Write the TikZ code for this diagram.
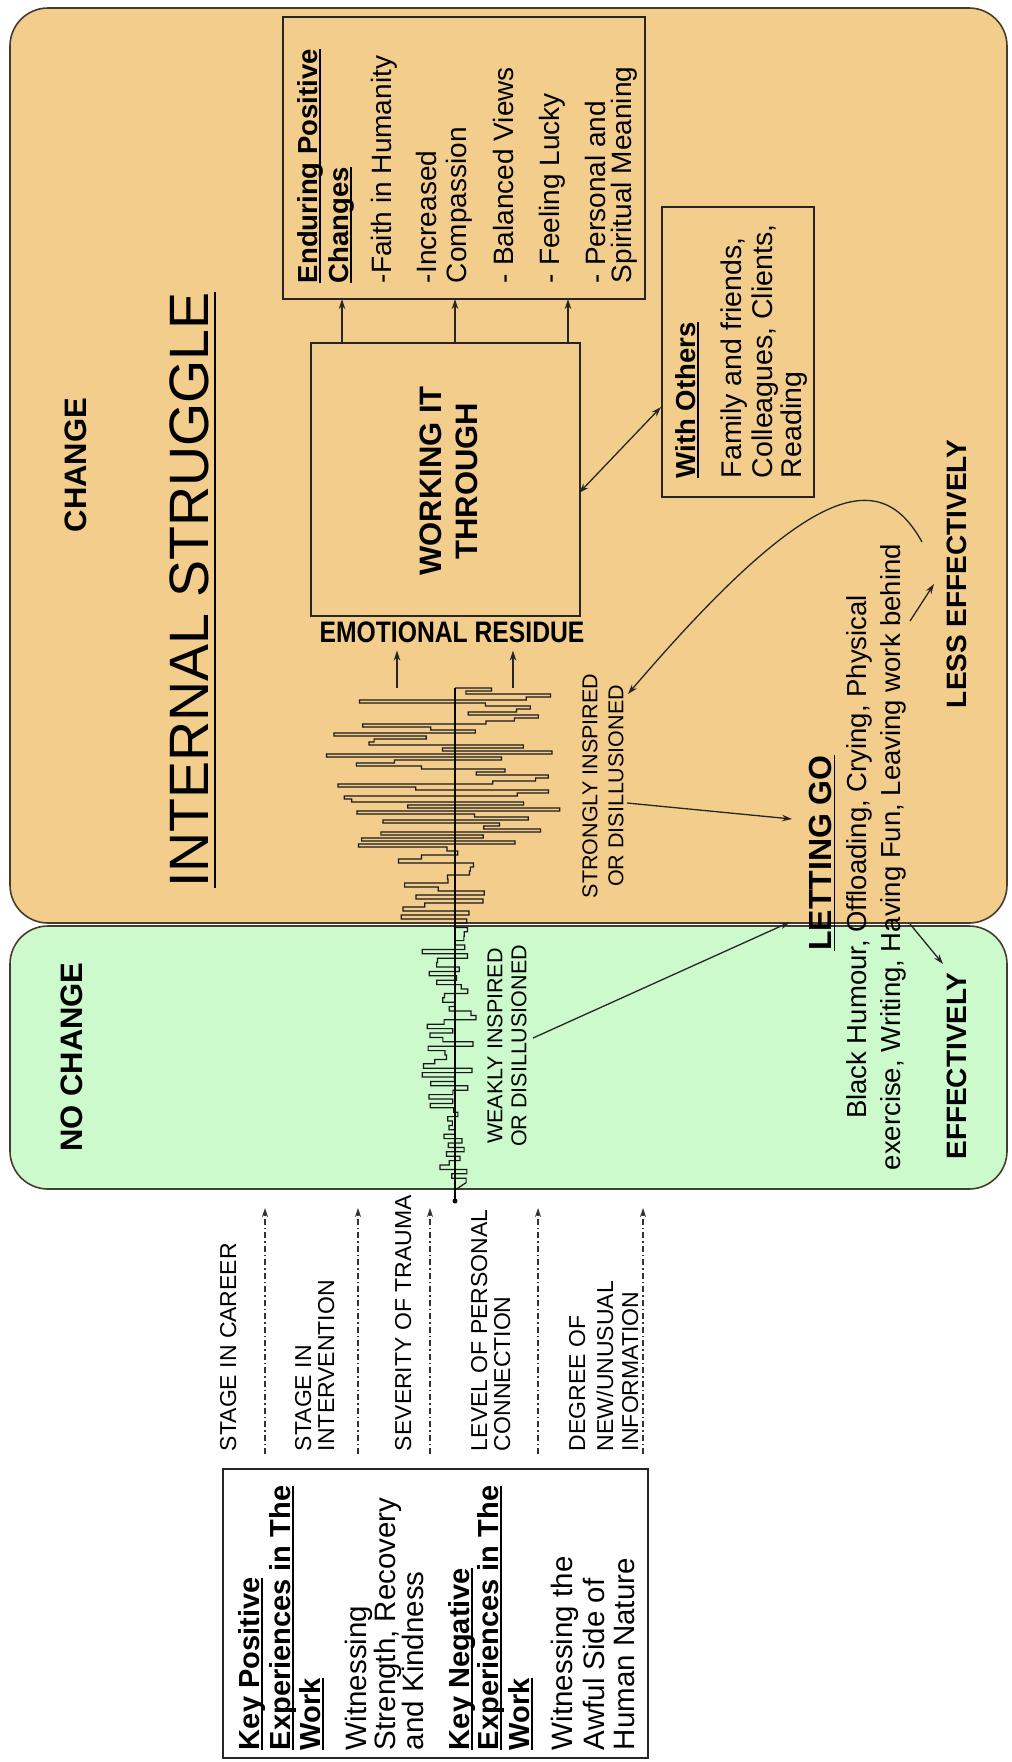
\documentclass[tikz,border=0pt]{standalone}
\usepackage{fontspec}
\setmainfont{Liberation Sans}
\usetikzlibrary{arrows.meta}
\definecolor{orangebg}{RGB}{243,205,140}
\definecolor{greenbg}{RGB}{204,250,204}
\definecolor{edgec}{RGB}{70,60,45}
\newsavebox\myulbox
\newcommand\myul[1]{\sbox\myulbox{#1}\rlap{\rule[-0.14em]{\wd\myulbox}{1.8pt}}\usebox\myulbox}
\begin{document}
\begin{tikzpicture}[x=1pt,y=-1pt,
  every node/.style={inner sep=0pt, outer sep=0pt},
  panel/.style={draw=edgec, line width=1.6pt, rounded corners=38pt},
  boxn/.style={draw=black!85, line width=1.8pt},
  rot/.style={rotate=90},
  txt/.style={rotate=90, anchor=base west},
  fbody/.style={font=\fontsize{28}{30}\selectfont},
  fhead/.style={font=\bfseries\fontsize{27.5}{30}\selectfont},
  fkey/.style={font=\fontsize{29.5}{30}\selectfont},
  fkeyh/.style={font=\bfseries\fontsize{29}{30}\selectfont},
  fsmall/.style={font=\fontsize{23}{24}\selectfont},
  arr/.style={draw=black!85, line width=1.3pt, -{Stealth[length=10pt,width=6.5pt]}},
  arrtwo/.style={draw=black!85, line width=1.3pt, {Stealth[length=10pt,width=6.5pt]}-{Stealth[length=10pt,width=6.5pt]}},
  dasharr/.style={draw=black!80, line width=1.1pt, dash pattern=on 6pt off 3pt on 1.5pt off 3pt, -{Stealth[length=9pt,width=6pt]}},
  wave/.style={draw=black!90, line width=1.2pt, line join=miter},
]
\useasboundingbox (0,0) rectangle (1012,1762);

% panels
\node[panel, fill=orangebg, minimum width=997pt, minimum height=915pt] (orng) at (508.5,465.5) {};
\node[panel, fill=greenbg, minimum width=997pt, minimum height=263pt] (grn) at (508.5,1057.5) {};

% boxes
\node[boxn, minimum width=362pt, minimum height=282pt] (endur) at (464,158) {};
\node[boxn, minimum width=269pt, minimum height=273pt] (work) at (445.5,479.5) {};
\node[boxn, minimum width=152pt, minimum height=290pt] (others) at (738,352) {};
\node[boxn, fill=white, minimum width=425pt, minimum height=289pt] (key) at (435.5,1613.5) {};

% waveform (staircase trace) and axis
\coordinate (ax0) at (455,688);
\coordinate (ax1) at (455,1201);
\pgfmathsetseed{11}
\draw[wave] (ax0)
  \foreach \i [evaluate=\i as \yy using (\i<54 ? 688+3*\i : (\i<73 ? 847+4*(\i-53) : 923+4.4*(\i-72))),
               evaluate=\i as \yp using (\i<55 ? 688+3*(\i-1) : (\i<74 ? 847+4*(\i-54) : 923+4.4*(\i-73))),
               evaluate=\i as \xx using (\i<3 ? 452+60*rand : (\i<54 ? 450+128*rand : (\i<73 ? 440+46*rand : (\i<79 ? 462+8*rand : (\i<115 ? 450+30*rand : 452+16*rand)))))] in {1,...,131}
  { -- (\xx,\yp) -- (\xx,\yy) } -- (455,1190) -- (ax1);
\draw[line width=1.3pt] (ax0) -- (ax1);
\fill (ax1) circle (2.5pt);

% titles
\node[rot, font=\bfseries\fontsize{31}{31}\selectfont] (chg) at (76,465) {CHANGE};
\node[rot, font=\bfseries\fontsize{31}{31}\selectfont] (nochg) at (72,1057) {NO CHANGE};
\node[rot, anchor=base, font=\fontsize{55.5}{56}\selectfont] (ist) at (208,590) {\myul{INTERNAL STRUGGLE}};

% enduring positive changes
\node[txt, fhead] (e1) at (317,283) {\myul{Enduring Positive}};
\node[txt, fhead] (e2) at (348,283) {\myul{Changes}};
\node[txt, fbody] (e3) at (391,283) {-Faith in Humanity};
\node[txt, fbody] (e4) at (436,283) {-Increased};
\node[txt, fbody] (e5) at (466,283) {Compassion};
\node[txt, fbody] (e6) at (513,283) {- Balanced Views};
\node[txt, fbody] (e7) at (559,283) {- Feeling Lucky};
\node[txt, fbody] (e8) at (605,283) {- Personal and};
\node[txt, fbody] (e9) at (631,283) {Spiritual Meaning};

% working it through
\node[rot, align=center, font=\bfseries\fontsize{31}{36}\selectfont] (wtt) at (449,481) {WORKING IT\\THROUGH};
\node[font=\bfseries\fontsize{24.7}{25}\selectfont, yscale=1.2] (emo) at (452,632) {EMOTIONAL RESIDUE};

% with others
\node[txt, fhead] (o1) at (695,478) {\myul{With Others}};
\node[txt, font=\fontsize{28.5}{30}\selectfont] (o2) at (741,478) {Family and friends,};
\node[txt, font=\fontsize{28.5}{30}\selectfont] (o3) at (772,478) {Colleagues, Clients,};
\node[txt, font=\fontsize{28.5}{30}\selectfont] (o4) at (801,478) {Reading};

% inspired labels
\node[rot, align=center, font=\fontsize{21.5}{26}\selectfont] (strong) at (603,786) {STRONGLY INSPIRED\\OR DISILLUSIONED};
\node[rot, align=center, font=\fontsize{21.5}{24}\selectfont] (weak) at (507,1046) {WEAKLY INSPIRED\\OR DISILLUSIONED};

% letting go
\node[rot, anchor=base, font=\bfseries\fontsize{32}{32}\selectfont] (lg) at (831,853) {\myul{LETTING GO}};
\node[rot, align=center, font=\fontsize{27.5}{34}\selectfont] (bh) at (876,857) {Black Humour, Offloading, Crying, Physical\\exercise, Writing, Having Fun, Leaving work behind};
\node[rot, font=\bfseries\fontsize{28}{28}\selectfont] (less) at (957,574) {LESS EFFECTIVELY};
\node[rot, font=\bfseries\fontsize{28}{28}\selectfont] (eff) at (957,1066) {EFFECTIVELY};

% factor labels
\node[txt, fsmall] (f1) at (236,1451) {STAGE IN CAREER};
\node[txt, fsmall] (f2a) at (311,1451) {STAGE IN};
\node[txt, fsmall] (f2b) at (334,1451) {INTERVENTION};
\node[txt, fsmall] (f3) at (411,1451) {SEVERITY OF TRAUMA};
\node[txt, fsmall] (f4a) at (487,1451) {LEVEL OF PERSONAL};
\node[txt, fsmall] (f4b) at (510,1451) {CONNECTION};
\node[txt, fsmall] (f5a) at (585,1451) {DEGREE OF};
\node[txt, fsmall] (f5b) at (613,1451) {NEW/UNUSUAL};
\node[txt, fsmall] (f5c) at (638,1451) {INFORMATION};

% key experiences
\node[txt, fkeyh] (k1) at (259,1750) {\myul{Key Positive}};
\node[txt, fkeyh] (k2) at (290,1750) {\myul{Experiences in The}};
\node[txt, fkeyh] (k3) at (320,1750) {\myul{Work}};
\node[txt, fkey] (k4) at (366,1750) {Witnessing};
\node[txt, fkey] (k5) at (395,1750) {Strength, Recovery};
\node[txt, fkey] (k6) at (423,1750) {and Kindness};
\node[txt, fkeyh] (k7) at (469,1750) {\myul{Key Negative}};
\node[txt, fkeyh] (k8) at (498,1750) {\myul{Experiences in The}};
\node[txt, fkeyh] (k9) at (529,1750) {\myul{Work}};
\node[txt, fkey] (k10) at (572,1750) {Witnessing the};
\node[txt, fkey] (k11) at (604,1750) {Awful Side of};
\node[txt, fkey] (k12) at (634,1750) {Human Nature};

% arrows work -> enduring
\foreach \dx/\nm in {-103.5pt/a1, 9.5pt/a2, 122.5pt/a3} {
  \coordinate (\nm) at ([xshift=\dx]work.north);
  \draw[arr] (\nm) -- (\nm |- endur.south);
}
% arrows to emotional residue
\coordinate (r1) at (397,688);
\coordinate (r2) at (513,688);
\draw[arr, shorten >=8pt] (r1) -- (r1 |- emo.south);
\draw[arr, shorten >=8pt] (r2) -- (r2 |- emo.south);

% work <-> others
\coordinate (dA) at (579,493);
\coordinate (dB) at (661,407);
\draw[arrtwo] (dA) -- (dB);

% curve back to strongly inspired
\coordinate (cS) at (922,542);
\coordinate (cE) at (628,694);
\draw[arr] (cS) .. controls (882,470) and (815,475) .. (cE);

% to letting go
\coordinate (sA) at (627,803);
\coordinate (sB) at (792,819);
\draw[arr] (sA) -- (sB);
\coordinate (wA) at (533,1038);
\coordinate (wB) at (790,922);
\draw[arr] (wA) -- (wB);

% to less effectively / effectively
\coordinate (lA) at (910,621);
\coordinate (lB) at (934,584);
\draw[arr] (lA) -- (lB);
\coordinate (eA) at (910,924);
\coordinate (eB) at (943,964);
\draw[arr] (eA) -- (eB);

% dashed factor arrows
\foreach \x/\nm in {265/da, 358/db, 430/dc, 538/dd, 643/de} {
  \coordinate (\nm0) at (\x,1454);
  \coordinate (\nm1) at (\x,1208);
  \draw[dasharr] (\nm0) -- (\nm1);
}
\end{tikzpicture}
\end{document}
